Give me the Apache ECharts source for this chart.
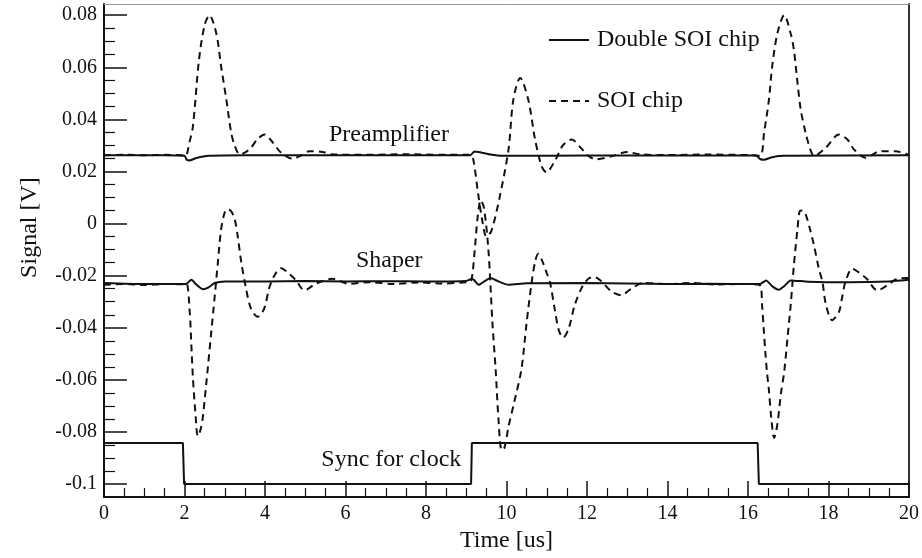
<!DOCTYPE html>
<html>
<head>
<meta charset="utf-8">
<script src="https://cdn.jsdelivr.net/npm/echarts@6/dist/echarts.min.js"></script>
<style>
html,body{margin:0;padding:0;background:#fff;}
#chart{width:922px;height:558px;}
</style>
</head>
<body>
<div id="chart"></div>
<script>
// ---- data (time in us, signal in V) ----
const legendNames = ["Double SOI chip", "SOI chip"];
const xTicks = [0, 2, 4, 6, 8, 10, 12, 14, 16, 18, 20];
const yTicks = [-0.1, -0.08, -0.06, -0.04, -0.02, 0, 0.02, 0.04, 0.06, 0.08];

const preampDouble = [[0,0.0262],[1.5,0.0262],[2.0,0.0260],[2.05,0.0246],[2.12,0.0242],[2.3,0.0252],[2.6,0.0260],[3.5,0.0262],[6,0.0262],[9.1,0.0262],[9.2,0.0277],[9.3,0.0275],[9.6,0.0265],[9.9,0.0260],[12,0.0261],[16.2,0.0261],[16.3,0.0248],[16.4,0.0245],[16.6,0.0255],[16.9,0.0260],[20,0.0262]];

const preampSOI = [[0,0.0262],[0.5,0.0264],[1.0,0.0262],[1.5,0.0264],[1.95,0.0262],[2.03,0.026],[2.12,0.031],[2.21,0.0374],[2.36,0.0629],[2.5,0.0762],[2.62,0.080],[2.79,0.073],[2.91,0.0603],[3.04,0.0476],[3.16,0.0349],[3.25,0.0298],[3.37,0.0266],[3.5,0.0272],[3.65,0.0291],[3.82,0.0325],[3.99,0.0342],[4.2,0.031],[4.4,0.0272],[4.69,0.0249],[4.9,0.0262],[5.1,0.0278],[5.43,0.0275],[5.64,0.0266],[6.5,0.0264],[7.5,0.0266],[8.5,0.0264],[9.1,0.0264],[9.17,0.025],[9.29,0.012],[9.4,0.001],[9.5,-0.005],[9.62,-0.003],[9.82,0.0094],[10.05,0.0285],[10.17,0.0476],[10.34,0.0559],[10.54,0.0476],[10.71,0.0323],[10.87,0.0221],[10.99,0.0197],[11.2,0.024],[11.4,0.030],[11.62,0.0323],[11.85,0.029],[12.05,0.0258],[12.23,0.0247],[12.6,0.0258],[13.0,0.0275],[13.3,0.0266],[14,0.0263],[15,0.0265],[16,0.0263],[16.3,0.026],[16.4,0.0349],[16.52,0.0476],[16.6,0.0603],[16.73,0.073],[16.9,0.080],[17.06,0.073],[17.14,0.0667],[17.23,0.054],[17.31,0.0438],[17.43,0.0349],[17.56,0.0279],[17.64,0.026],[17.93,0.0291],[18.26,0.0342],[18.47,0.0323],[18.63,0.0285],[18.92,0.0253],[19.29,0.0278],[19.66,0.0278],[19.95,0.0266],[20,0.0264]];

const shaperDouble = [[0,-0.0228],[1,-0.0232],[1.95,-0.0232],[2.05,-0.0231],[2.17,-0.0216],[2.3,-0.0235],[2.46,-0.0252],[2.6,-0.0245],[2.75,-0.0228],[3.0,-0.0222],[4,-0.0222],[5,-0.022],[6,-0.0222],[7,-0.0221],[8,-0.0222],[9.0,-0.0220],[9.14,-0.0212],[9.2,-0.0218],[9.31,-0.0235],[9.45,-0.0222],[9.6,-0.0209],[9.8,-0.0222],[10.05,-0.0235],[10.5,-0.0229],[12,-0.0228],[13,-0.0230],[14,-0.0232],[15,-0.0231],[16.2,-0.0232],[16.3,-0.0232],[16.45,-0.0218],[16.6,-0.0240],[16.76,-0.0254],[16.9,-0.0240],[17.06,-0.0218],[17.5,-0.0223],[18.5,-0.0225],[19.5,-0.0222],[20,-0.0216]];

const shaperSOI = [[0,-0.0235],[0.5,-0.0232],[1,-0.0236],[1.5,-0.0232],[1.95,-0.0233],[2.05,-0.023],[2.13,-0.0339],[2.17,-0.0466],[2.21,-0.0594],[2.28,-0.0746],[2.33,-0.0816],[2.4,-0.079],[2.45,-0.075],[2.55,-0.060],[2.65,-0.044],[2.75,-0.028],[2.83,-0.0148],[2.91,-0.0021],[3.0,0.0043],[3.08,0.0056],[3.17,0.0045],[3.25,0.0015],[3.32,-0.0046],[3.41,-0.0148],[3.53,-0.025],[3.65,-0.0326],[3.82,-0.0358],[3.98,-0.0326],[4.1,-0.025],[4.23,-0.020],[4.4,-0.0171],[4.6,-0.0193],[4.77,-0.0218],[4.98,-0.0256],[5.26,-0.0231],[5.67,-0.0212],[6.09,-0.0231],[6.6,-0.0225],[7.2,-0.0232],[7.8,-0.0226],[8.4,-0.0230],[9.0,-0.0225],[9.12,-0.022],[9.2,-0.012],[9.28,0.002],[9.36,0.009],[9.44,0.006],[9.55,-0.01],[9.65,-0.038],[9.73,-0.056],[9.8,-0.075],[9.88,-0.087],[9.95,-0.086],[10.05,-0.078],[10.2,-0.068],[10.37,-0.056],[10.5,-0.038],[10.63,-0.022],[10.72,-0.014],[10.79,-0.0116],[10.88,-0.014],[11.0,-0.019],[11.08,-0.0225],[11.2,-0.033],[11.3,-0.041],[11.41,-0.0438],[11.55,-0.040],[11.7,-0.031],[11.9,-0.0237],[12.05,-0.021],[12.18,-0.0205],[12.35,-0.022],[12.6,-0.026],[12.84,-0.0275],[13.1,-0.025],[13.4,-0.0228],[14,-0.0232],[14.6,-0.0228],[15.2,-0.0234],[15.8,-0.0232],[16.3,-0.0237],[16.35,-0.0314],[16.39,-0.0403],[16.43,-0.0492],[16.47,-0.0568],[16.52,-0.0640],[16.58,-0.075],[16.65,-0.0823],[16.73,-0.0770],[16.82,-0.0650],[16.9,-0.0568],[16.98,-0.0441],[17.06,-0.0314],[17.14,-0.0160],[17.23,-0.0020],[17.29,0.0049],[17.36,0.0050],[17.43,0.0037],[17.54,-0.0021],[17.64,-0.0084],[17.76,-0.0173],[17.85,-0.0224],[17.93,-0.0307],[18.09,-0.0371],[18.26,-0.0339],[18.34,-0.0282],[18.42,-0.0224],[18.59,-0.0173],[18.74,-0.0186],[18.95,-0.0212],[19.21,-0.0256],[19.46,-0.0237],[19.7,-0.0212],[19.95,-0.0209],[20,-0.0209]];

const syncClock = [[0,-0.0842],[1.96,-0.0842],[1.99,-0.1],[9.12,-0.1],[9.14,-0.0842],[16.24,-0.0842],[16.27,-0.1],[20,-0.1]];

// annotation texts and their anchor (data coords)
const annotations = [
  {text: "Preamplifier", at: [5.59, 0.0342]},
  {text: "Shaper", at: [6.26, -0.0143]},
  {text: "Sync for clock", at: [5.40, -0.0907]}
];

// ---- chart ----
const FONT = "'Liberation Serif', 'DejaVu Serif', serif";
const INK = '#111';
const yMin = -0.105, yMax = 0.0843;
const yMinor = [];
for (let i = -20; i <= 16; i++) {
  const v = +(i * 0.005).toFixed(3);
  if (Math.abs(Math.round(v / 0.02) * 0.02 - v) > 1e-9) yMinor.push(v);
}

const chart = echarts.init(document.getElementById('chart'), null, {renderer: 'canvas'});

function lineSeries(name, data, dashed) {
  return {
    type: 'line', name: name, data: data,
    xAxisIndex: 0, yAxisIndex: 0,
    showSymbol: false, symbol: 'none',
    smooth: dashed ? 0.3 : 0.2,
    lineStyle: {color: INK, width: 2, type: dashed ? [7, 5] : 'solid'},
    itemStyle: {color: INK},
    silent: true, z: dashed ? 3 : 4
  };
}

function legendBox(name, top) {
  return {data: [name], orient: 'vertical', left: 548, top: top, padding: 0,
    itemWidth: 40, itemHeight: 14, itemGap: 6, selectedMode: false,
    itemStyle: {opacity: 0},
    textStyle: {fontFamily: FONT, fontSize: 24, color: INK, padding: [0, 0, 0, 3]}};
}

const option = {
  animation: false,
  backgroundColor: '#fff',
  grid: {left: 104, right: 10, top: 4, bottom: 59, containLabel: false},
  legend: [legendBox(legendNames[0], 28), legendBox(legendNames[1], 89)],
  xAxis: [
    {type: 'value', min: 0, max: 20, interval: 2, position: 'bottom',
     axisLine: {show: true, onZero: false, lineStyle: {color: INK, width: 2}},
     axisTick: {show: true, inside: true, length: 16, lineStyle: {color: INK, width: 1.5}},
     minorTick: {show: true, splitNumber: 4, length: 9, lineStyle: {color: INK, width: 1.2}},
     splitLine: {show: false},
     axisLabel: {fontFamily: FONT, fontSize: 20, color: INK, margin: 7,
       customValues: xTicks, formatter: v => String(v)},
     name: 'Time [us]', nameLocation: 'middle', nameGap: 30,
     nameTextStyle: {fontFamily: FONT, fontSize: 24, color: INK}},
    {type: 'value', min: 0, max: 20, position: 'top',
     axisLine: {show: true, onZero: false, lineStyle: {color: '#999', width: 1}},
     axisTick: {show: false}, axisLabel: {show: false}, splitLine: {show: false}}
  ],
  yAxis: [
    {type: 'value', min: yMin, max: yMax, position: 'left',
     axisLine: {show: true, onZero: false, lineStyle: {color: INK, width: 2}},
     axisTick: {show: true, inside: true, length: 23, customValues: yTicks, lineStyle: {color: INK, width: 1.5}},
     splitLine: {show: false},
     axisLabel: {fontFamily: FONT, fontSize: 20, color: INK, margin: 7, customValues: yTicks,
       formatter: v => String(parseFloat((+v).toFixed(3)))},
     name: 'Signal [V]', nameLocation: 'middle', nameGap: 62,
     nameTextStyle: {fontFamily: FONT, fontSize: 24, color: INK, padding: [0, 0, 0, 46]}},
    {type: 'value', min: yMin, max: yMax, position: 'left',
     axisLine: {show: false},
     axisTick: {show: true, inside: true, length: 11, customValues: yMinor, lineStyle: {color: INK, width: 1.2}},
     axisLabel: {show: false}, splitLine: {show: false}},
    {type: 'value', min: yMin, max: yMax, position: 'right',
     axisLine: {show: true, onZero: false, lineStyle: {color: '#333', width: 2}},
     axisTick: {show: false}, axisLabel: {show: false}, splitLine: {show: false}}
  ],
  series: [
    lineSeries(legendNames[0], preampDouble, false),
    lineSeries(legendNames[1], preampSOI, true),
    lineSeries(legendNames[0], shaperDouble, false),
    lineSeries(legendNames[1], shaperSOI, true),
    Object.assign(lineSeries('Sync', syncClock, false), {smooth: false})
  ]
};
chart.setOption(option);

// annotation texts, anchored through the chart's coordinate system
const graphics = annotations.map(a => {
  const p = chart.convertToPixel({xAxisIndex: 0, yAxisIndex: 0}, a.at);
  return {type: 'text', x: p[0], y: p[1], silent: true,
    style: {text: a.text, fontFamily: FONT, fontSize: 24, fill: INK, align: 'left', verticalAlign: 'middle'}};
});
chart.setOption({graphic: graphics});
</script>
</body>
</html>
